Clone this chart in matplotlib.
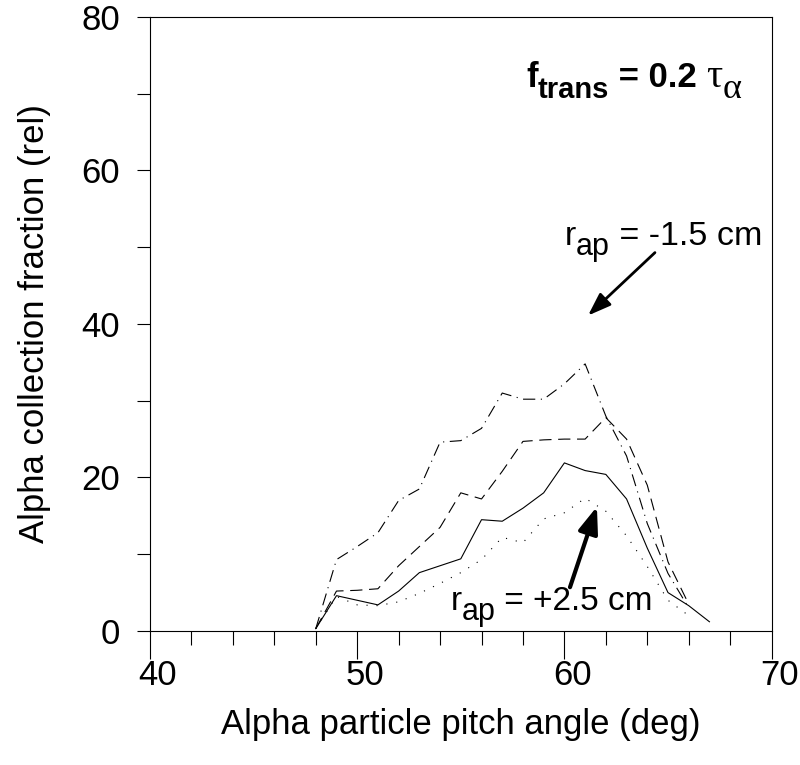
import matplotlib
matplotlib.use('Agg')
import matplotlib.pyplot as plt
from matplotlib.ticker import MultipleLocator
import matplotlib.transforms as mtransforms

plt.rcParams['font.family'] = ['Liberation Sans', 'DejaVu Sans']

# pitch angle (deg)
angle = [48, 49, 50, 51, 52, 53, 54, 55, 56, 57, 58, 59, 60, 61, 62, 63, 64, 65, 66, 67]
angle_short = angle[:-1]

# collection fraction for four aperture radii
frac_m15 = [0.3, 9.3, 11.0, 12.8, 17.0, 18.5, 24.6, 24.8, 26.4, 31.0, 30.2, 30.2,
            32.2, 34.8, 28.0, 22.8, 14.0, 7.5, 3.0]
frac_dash = [0.3, 5.2, 5.3, 5.5, 8.5, 11.0, 13.5, 18.0, 17.2, 20.8, 24.7, 24.9,
             25.0, 25.0, 27.8, 25.0, 19.0, 9.0, 3.5]
frac_solid = [0.3, 4.6, 4.0, 3.4, 5.2, 7.6, 8.5, 9.4, 14.5, 14.3, 16.0, 18.0,
              21.9, 20.9, 20.4, 17.2, 10.8, 5.0, 3.3, 1.2]
frac_p25 = [0.3, 4.5, 3.4, 3.3, 3.8, 4.9, 6.2, 7.6, 9.3, 12.2, 11.5, 14.6,
            15.4, 17.3, 15.6, 12.4, 8.4, 4.0, 2.0]

fig = plt.figure(figsize=(8, 7.65), dpi=100)
ax = fig.add_axes([0.1875, 0.1752, 0.777, 0.8026])

ax.plot(angle_short, frac_m15, color='black', lw=0.8, ls=(0, (11, 5, 1, 5)))
ax.plot(angle_short, frac_dash, color='black', lw=0.8, ls=(0, (11, 6)))
ax.plot(angle, frac_solid, color='black', lw=0.8, ls='-')
ax.plot(angle_short, frac_p25, color='black', lw=0.8, ls=(0, (1, 8)))

ax.set_xlim(40, 70)
ax.set_ylim(0, 80)
ax.xaxis.set_major_locator(MultipleLocator(10))
ax.xaxis.set_minor_locator(MultipleLocator(2))
ax.yaxis.set_major_locator(MultipleLocator(20))
ax.yaxis.set_minor_locator(MultipleLocator(10))
ax.tick_params(axis='x', which='major', direction='out', length=20, width=0.8,
               labelsize=25, pad=0)
ax.tick_params(axis='x', which='minor', direction='out', length=10, width=0.8)
ax.tick_params(axis='y', which='both', direction='out', length=9.5, width=0.8,
               labelsize=25, pad=12)
for s in ax.spines.values():
    s.set_linewidth(0.8)

offset = mtransforms.ScaledTranslation(8 / 100, 0, fig.dpi_scale_trans)
for lbl in ax.get_xticklabels():
    lbl.set_transform(lbl.get_transform() + offset)

ax.set_xlabel('Alpha particle pitch angle (deg)', fontsize=25, labelpad=12)
ax.set_ylabel('Alpha collection fraction (rel)', fontsize=25, labelpad=22)

renderer = fig.canvas.get_renderer()


def rich_text(x, y, parts):
    # parts: (text, size, weight, drop in points, family)
    cur = 0.0
    for s, size, weight, dy, fam in parts:
        t = ax.annotate(s, xy=(x, y), xycoords='data',
                        xytext=(cur * 72 / fig.dpi, dy), textcoords='offset points',
                        fontsize=size, fontweight=weight, family=fam,
                        ha='left', va='baseline')
        cur += t.get_window_extent(renderer).width


sans = ['Liberation Sans', 'DejaVu Sans']
serif = ['Liberation Serif', 'DejaVu Serif']
rich_text(58.15, 70.9, [('f', 25, 'bold', 0, sans),
                        ('trans', 21, 'bold', -8, sans),
                        (' = 0.2 ', 25, 'bold', 0, sans),
                        ('\u03c4', 29, 'normal', 0, serif),
                        ('\u03b1', 26, 'normal', -8, serif)])
rich_text(60.0, 50.3, [('r', 24.5, 'normal', 0, sans),
                       ('ap', 22, 'normal', -7, sans),
                       (' = -1.5 cm', 24.5, 'normal', 0, sans)])
rich_text(54.5, 2.74, [('r', 24, 'normal', 0, sans),
                       ('ap', 22, 'normal', -7, sans),
                       (' = +2.5 cm', 24, 'normal', 0, sans)])

ax.annotate('', xy=(61.14, 41.1), xytext=(64.37, 49.3),
            arrowprops=dict(arrowstyle='-|>,head_length=1.4,head_width=0.5',
                            color='black', lw=2, shrinkA=0, shrinkB=0))
ax.annotate('', xy=(61.57, 16.2), xytext=(60.27, 5.7),
            arrowprops=dict(arrowstyle='-|>,head_length=1.6,head_width=0.6',
                            color='black', lw=3, shrinkA=0, shrinkB=0))

fig.savefig('out.png', dpi=100)
